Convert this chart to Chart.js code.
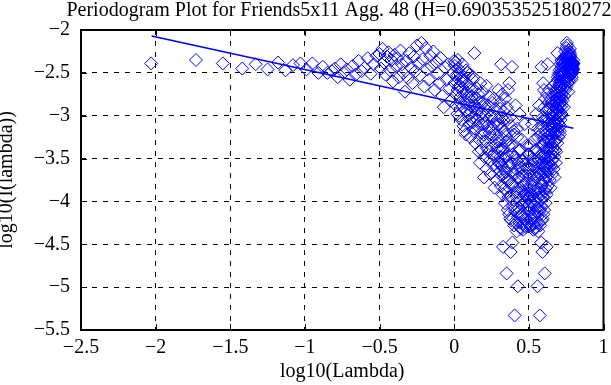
<!DOCTYPE html>
<html>
<head>
<meta charset="utf-8">
<script src="https://cdn.jsdelivr.net/npm/chart.js@4.4.0/dist/chart.umd.min.js"></script>
<style>
    html, body { margin: 0; padding: 0; background: #fff; }
    #grafico { display: block; }
</style>
</head>
<body>
<canvas id="grafico" width="611" height="385"></canvas>
<script>
// textos
const titulo = 'Periodogram Plot for Friends5x11 Agg. 48 (H=0.690353525180272)';
const xTitulo = 'log10(Lambda)';
const yTitulo = 'log10(I(lambda))';

// ticks dos eixos
const xTicks = [-2.5, -2, -1.5, -1, -0.5, 0, 0.5, 1];
const xTickLabels = ['\u22122.5', '\u22122', '\u22121.5', '\u22121', '\u22120.5', '0', '0.5', '1'];
const yTicks = [-5.5, -5, -4.5, -4, -3.5, -3, -2.5, -2];
const yTickLabels = ['\u22125.5', '\u22125', '\u22124.5', '\u22124', '\u22123.5', '\u22123', '\u22122.5', '\u22122'];

// log10(lambda) for the lower half of the frequencies (lambda < pi)
const freqBaixa = [
    -2.03, -1.73, -1.55, -1.42, -1.33, -1.25, -1.18, -1.13, -1.08, -1.03, -0.99, -0.95, -0.91, -0.88, -0.85, -0.82,
    -0.80, -0.78, -0.76, -0.74, -0.72, -0.70, -0.68, -0.66, -0.64, -0.62, -0.60, -0.58, -0.56, -0.54, -0.52,
    -0.50, -0.49, -0.48, -0.47, -0.46, -0.45, -0.44, -0.43, -0.42, -0.41, -0.40, -0.39, -0.38, -0.37, -0.36, -0.35, -0.34,
    -0.33, -0.32, -0.31, -0.30, -0.29, -0.28, -0.27, -0.26, -0.25, -0.24, -0.23, -0.22, -0.21, -0.20, -0.19, -0.18,
    -0.17, -0.16, -0.15, -0.14, -0.13, -0.12, -0.11, -0.10, -0.09, -0.08, -0.07, -0.06, -0.05, -0.04, -0.03, -0.02, -0.01, 0.00,
    0.005, 0.010, 0.015, 0.020, 0.025, 0.030, 0.035, 0.040, 0.045, 0.050,
    0.055, 0.060, 0.065, 0.070, 0.075, 0.080, 0.085, 0.090, 0.095, 0.100,
    0.105, 0.110, 0.115, 0.120, 0.125, 0.130, 0.135, 0.140, 0.145, 0.150,
    0.155, 0.160, 0.165, 0.170, 0.175, 0.180, 0.185, 0.190, 0.195, 0.200,
    0.205, 0.210, 0.215, 0.220, 0.225, 0.230, 0.235, 0.240, 0.245, 0.250,
    0.255, 0.260, 0.265, 0.270, 0.275, 0.280, 0.285, 0.290, 0.295, 0.300,
    0.303, 0.306, 0.309, 0.312, 0.315, 0.318, 0.321, 0.324, 0.327, 0.330,
    0.333, 0.336, 0.339, 0.342, 0.345, 0.348, 0.351, 0.354, 0.357, 0.360,
    0.363, 0.366, 0.369, 0.372, 0.375, 0.378, 0.381, 0.384, 0.387, 0.390,
    0.393, 0.396, 0.399, 0.402, 0.405, 0.408, 0.411, 0.414, 0.417, 0.420,
    0.423, 0.426, 0.429, 0.432, 0.435, 0.438, 0.441, 0.444, 0.447, 0.450,
    0.453, 0.456, 0.459, 0.462, 0.465, 0.468, 0.471, 0.474, 0.477, 0.480,
    0.483, 0.486, 0.489, 0.492, 0.495,
    0.0025, 0.0075, 0.0125, 0.0175, 0.0225, 0.0275, 0.0325, 0.0375, 0.0425, 0.0475,
    0.0525, 0.0575, 0.0625, 0.0675, 0.0725, 0.0775, 0.0825, 0.0875, 0.0925, 0.0975,
    0.1025, 0.1075, 0.1125, 0.1175, 0.1225, 0.1275, 0.1325, 0.1375, 0.1425, 0.1475,
    0.1525, 0.1575, 0.1625, 0.1675, 0.1725, 0.1775, 0.1825, 0.1875, 0.1925, 0.1975,
    0.2025, 0.2075, 0.2125, 0.2175, 0.2225, 0.2275, 0.2325, 0.2375, 0.2425, 0.2475,
    0.2525, 0.2575, 0.2625, 0.2675, 0.2725, 0.2775, 0.2825, 0.2875, 0.2925, 0.2975,
    0.3015, 0.3045, 0.3075, 0.3105, 0.3135, 0.3165, 0.3195, 0.3225, 0.3255, 0.3285,
    0.3315, 0.3345, 0.3375, 0.3405, 0.3435, 0.3465, 0.3495, 0.3525, 0.3555, 0.3585,
    0.3615, 0.3645, 0.3675, 0.3705, 0.3735, 0.3765, 0.3795, 0.3825, 0.3855, 0.3885,
    0.3915, 0.3945, 0.3975, 0.4005, 0.4035, 0.4065, 0.4095, 0.4125, 0.4155, 0.4185,
    0.4215, 0.4245, 0.4275, 0.4305, 0.4335, 0.4365, 0.4395, 0.4425, 0.4455, 0.4485,
    0.4515, 0.4545, 0.4575, 0.4605, 0.4635, 0.4665, 0.4695, 0.4725, 0.4755, 0.4785,
    0.4815, 0.4845, 0.4875, 0.4905, 0.4935
];

// log10(lambda) for the mirrored upper half (lambda > pi), same order
const freqAlta = [
    0.7975, 0.7969, 0.7962, 0.7956, 0.7949, 0.7943, 0.7936, 0.7930, 0.7924, 0.7917, 0.7911, 0.7904, 0.7896, 0.7890, 0.7883, 0.7876,
    0.7871, 0.7865, 0.7859, 0.7853, 0.7847, 0.7842, 0.7834, 0.7827, 0.7820, 0.7812, 0.7805, 0.7796, 0.7787, 0.7777, 0.7768,
    0.7758, 0.7752, 0.7746, 0.7740, 0.7734, 0.7728, 0.7722, 0.7716, 0.7710, 0.7704, 0.7698, 0.7690, 0.7682, 0.7675, 0.7667, 0.7659, 0.7652,
    0.7644, 0.7636, 0.7628, 0.7621, 0.7611, 0.7601, 0.7591, 0.7581, 0.7572, 0.7562, 0.7552, 0.7542, 0.7532, 0.7522, 0.7510, 0.7497,
    0.7484, 0.7471, 0.7459, 0.7446, 0.7433, 0.7420, 0.7408, 0.7395, 0.7378, 0.7362, 0.7345, 0.7329, 0.7312, 0.7295, 0.7279, 0.7262, 0.7246, 0.7229,
    0.7219, 0.7209, 0.7199, 0.7188, 0.7178, 0.7168, 0.7158, 0.7148, 0.7138, 0.7127,
    0.7116, 0.7104, 0.7092, 0.7081, 0.7069, 0.7057, 0.7046, 0.7034, 0.7022, 0.7011,
    0.6997, 0.6984, 0.6970, 0.6957, 0.6943, 0.6930, 0.6916, 0.6903, 0.6889, 0.6876,
    0.6860, 0.6845, 0.6829, 0.6813, 0.6798, 0.6782, 0.6766, 0.6751, 0.6735, 0.6719,
    0.6701, 0.6683, 0.6665, 0.6646, 0.6628, 0.6610, 0.6592, 0.6573, 0.6555, 0.6537,
    0.6516, 0.6494, 0.6473, 0.6451, 0.6430, 0.6408, 0.6387, 0.6366, 0.6344, 0.6323,
    0.6308, 0.6294, 0.6279, 0.6265, 0.6250, 0.6236, 0.6221, 0.6205, 0.6190, 0.6175,
    0.6159, 0.6144, 0.6128, 0.6112, 0.6096, 0.6080, 0.6063, 0.6046, 0.6029, 0.6012,
    0.5994, 0.5976, 0.5958, 0.5940, 0.5923, 0.5905, 0.5887, 0.5867, 0.5848, 0.5829,
    0.5810, 0.5791, 0.5771, 0.5751, 0.5730, 0.5709, 0.5689, 0.5668, 0.5647, 0.5626,
    0.5604, 0.5581, 0.5559, 0.5536, 0.5514, 0.5492, 0.5469, 0.5445, 0.5421, 0.5397,
    0.5372, 0.5347, 0.5322, 0.5297, 0.5271, 0.5244, 0.5218, 0.5191, 0.5164, 0.5137,
    0.5109, 0.5080, 0.5052, 0.5022, 0.4993,
    0.7224, 0.7214, 0.7204, 0.7194, 0.7183, 0.7173, 0.7163, 0.7153, 0.7143, 0.7133,
    0.7122, 0.7110, 0.7098, 0.7087, 0.7075, 0.7063, 0.7052, 0.7040, 0.7028, 0.7017,
    0.7004, 0.6991, 0.6977, 0.6964, 0.6950, 0.6937, 0.6923, 0.6910, 0.6896, 0.6883,
    0.6868, 0.6853, 0.6837, 0.6821, 0.6806, 0.6790, 0.6774, 0.6759, 0.6743, 0.6727,
    0.6710, 0.6692, 0.6674, 0.6656, 0.6637, 0.6619, 0.6601, 0.6583, 0.6564, 0.6546,
    0.6527, 0.6505, 0.6484, 0.6462, 0.6441, 0.6419, 0.6398, 0.6377, 0.6355, 0.6334,
    0.6316, 0.6301, 0.6287, 0.6272, 0.6258, 0.6243, 0.6229, 0.6213, 0.6198, 0.6183,
    0.6167, 0.6152, 0.6136, 0.6120, 0.6104, 0.6088, 0.6072, 0.6055, 0.6038, 0.6021,
    0.6003, 0.5985, 0.5967, 0.5949, 0.5932, 0.5914, 0.5896, 0.5877, 0.5858, 0.5839,
    0.5820, 0.5801, 0.5781, 0.5761, 0.5741, 0.5720, 0.5699, 0.5679, 0.5658, 0.5637,
    0.5615, 0.5593, 0.5570, 0.5548, 0.5525, 0.5503, 0.5481, 0.5457, 0.5433, 0.5409,
    0.5385, 0.5360, 0.5335, 0.5310, 0.5284, 0.5258, 0.5231, 0.5205, 0.5178, 0.5151,
    0.5123, 0.5095, 0.5066, 0.5037, 0.5008
];

// log10(I(lambda)) - the periodogram is symmetric, so both halves share these values
const periodograma = [
    -2.39, -2.35, -2.39, -2.45, -2.40, -2.46, -2.38, -2.47, -2.41, -2.39, -2.46, -2.39, -2.50, -2.43, -2.50, -2.48,
    -2.45, -2.55, -2.40, -2.50, -2.46, -2.58, -2.42, -2.52, -2.36, -2.48, -2.44, -2.33, -2.51, -2.40, -2.30,
    -2.28, -2.45, -2.22, -2.38, -2.52, -2.31, -2.26, -2.47, -2.35, -2.60, -2.29, -2.42, -2.33, -2.55, -2.24, -2.40, -2.50,
    -2.72, -2.36, -2.56, -2.27, -2.44, -2.62, -2.31, -2.48, -2.18, -2.39, -2.53, -2.15, -2.34, -2.66, -2.21, -2.46,
    -2.58, -2.30, -2.42, -2.25, -2.70, -2.37, -2.51, -2.62, -2.33, -2.77, -2.90, -2.44, -2.58, -2.40, -2.68, -2.82, -2.50, -2.36,
    -2.42, -2.75, -2.55, -2.98, -2.35, -2.66, -2.50, -2.85, -2.60, -3.05,
    -2.40, -2.72, -2.55, -3.18, -2.82, -2.47, -2.95, -2.63, -2.78, -3.10,
    -2.52, -2.88, -2.70, -3.02, -2.58, -2.80, -2.27, -3.15, -2.92, -2.68,
    -3.05, -2.75, -3.42, -2.85, -2.62, -3.20, -2.96, -2.72, -3.30, -3.72,
    -2.88, -3.08, -2.65, -3.38, -2.95, -3.15, -2.78, -3.52, -3.02, -3.25,
    -2.85, -3.45, -3.10, -3.84, -2.92, -3.30, -3.60, -3.05, -2.70, -3.40,
    -3.10, -2.85, -3.55, -3.25, -2.40, -3.70, -3.02, -3.40, -4.53, -2.95,
    -3.62, -3.18, -3.85, -2.80, -3.48, -3.30, -4.84, -3.05, -3.75, -2.70,
    -3.95, -3.35, -2.62, -3.58, -4.20, -4.59, -3.12, -3.80, -2.43, -4.48,
    -3.45, -3.98, -3.22, -4.09, -5.33, -3.68, -2.88, -4.25, -3.52, -3.90,
    -3.15, -4.99, -3.72, -4.12, -3.40, -2.98, -4.30, -3.60, -3.85, -4.17,
    -3.28, -4.05, -3.70, -4.33, -3.50, -3.92, -3.10, -4.22, -3.78, -4.00,
    -3.35, -4.28, -3.62, -3.95, -3.45,
    -2.62, -2.38, -2.88, -2.52, -2.70, -2.45, -3.00, -2.65, -2.78, -2.55,
    -2.90, -2.68, -3.12, -2.60, -2.85, -3.22, -2.74, -2.50, -3.00, -2.86,
    -2.66, -3.25, -2.95, -2.78, -3.08, -2.55, -3.18, -2.88, -3.32, -2.98,
    -2.80, -3.12, -2.92, -3.28, -3.55, -2.98, -3.40, -3.10, -2.84, -3.22,
    -3.48, -3.00, -3.30, -3.62, -3.12, -2.88, -3.42, -3.20, -3.68, -3.00,
    -3.35, -3.15, -3.58, -2.80, -3.48, -3.22, -3.75, -3.38, -3.10, -3.55,
    -3.30, -3.65, -2.92, -3.48, -3.82, -3.15, -3.58, -2.75, -3.92, -3.38,
    -3.05, -3.72, -3.50, -4.02, -3.22, -3.66, -3.88, -2.90, -3.45, -4.10,
    -3.60, -3.28, -4.15, -3.75, -3.02, -3.95, -3.55, -4.22, -3.35, -3.82,
    -4.05, -3.68, -3.18, -4.28, -3.90, -3.48, -4.12, -3.62, -3.95, -4.35,
    -3.25, -3.85, -4.18, -3.55, -4.08, -3.72, -4.25, -3.40, -3.98, -4.32,
    -3.65, -4.15, -3.88, -3.52, -4.26, -3.80, -4.02, -3.58, -4.20, -3.92,
    -4.30, -3.70, -4.10, -3.85, -4.05
];

// reta ajustada (least squares fit)
const retaX = [-2.027, 0.798];
const retaY = [-2.070, -3.146];

document.addEventListener('DOMContentLoaded', function () {
    const azul = 'rgb(0, 0, 255)';
    const fonte = "'Liberation Serif', 'Times New Roman', serif";

    Chart.defaults.font.family = fonte;
    Chart.defaults.font.size = 20;
    Chart.defaults.color = '#000';

    // monta os pontos
    const pontos = [];
    periodograma.forEach(function (v, i) {
        pontos.push({ x: freqBaixa[i], y: v });
        pontos.push({ x: freqAlta[i], y: v });
    });
    const reta = retaX.map(function (x, i) { return { x: x, y: retaY[i] }; });

    // titulo centrado sobre a area do grafico
    const tituloPlugin = {
        id: 'tituloPlugin',
        afterDraw(chart) {
            const ctx = chart.ctx, area = chart.chartArea;
            ctx.save();
            ctx.font = '20px ' + fonte;
            ctx.fillStyle = '#000';
            ctx.textAlign = 'center';
            ctx.textBaseline = 'alphabetic';
            ctx.fillText(titulo, (area.left + area.right) / 2, 16);
            ctx.restore();
        }
    };

    // caixa dos eixos com ticks para dentro
    const caixaPlugin = {
        id: 'caixaPlugin',
        afterDatasetsDraw(chart) {
            const ctx = chart.ctx, a = chart.chartArea;
            const sx = chart.scales.x, sy = chart.scales.y;
            const tam = 6;
            ctx.save();
            ctx.strokeStyle = '#000';
            ctx.lineWidth = 1;
            ctx.beginPath();
            xTicks.forEach(function (v) {
                const px = Math.round(sx.getPixelForValue(v)) + 0.5;
                ctx.moveTo(px, a.bottom); ctx.lineTo(px, a.bottom - tam);
                ctx.moveTo(px, a.top); ctx.lineTo(px, a.top + tam);
            });
            yTicks.forEach(function (v) {
                const py = Math.round(sy.getPixelForValue(v)) + 0.5;
                ctx.moveTo(a.left, py); ctx.lineTo(a.left + tam, py);
                ctx.moveTo(a.right, py); ctx.lineTo(a.right - tam, py);
            });
            ctx.stroke();
            ctx.lineWidth = 2;
            ctx.strokeRect(a.left, a.top, a.right - a.left, a.bottom - a.top);
            ctx.restore();
        }
    };

    const gradeComum = { color: '#000', lineWidth: 1, drawTicks: false };

    new Chart(document.getElementById('grafico').getContext('2d'), {
        type: 'scatter',
        data: {
            datasets: [{
                type: 'line',
                data: reta,
                borderColor: azul,
                borderWidth: 1.6,
                pointRadius: 0,
                fill: false,
                order: 0
            }, {
                data: pontos,
                pointStyle: 'rectRot',
                pointRadius: 6.5,
                pointBorderWidth: 1,
                borderColor: azul,
                backgroundColor: 'rgba(0,0,0,0)',
                order: 1
            }]
        },
        options: {
            responsive: false,
            animation: false,
            devicePixelRatio: 1,
            layout: { padding: { top: 30, right: 3, left: 0, bottom: 0 } },
            plugins: {
                legend: { display: false },
                tooltip: { enabled: false },
                title: { display: false }
            },
            scales: {
                x: {
                    type: 'linear',
                    min: -2.5,
                    max: 1,
                    afterBuildTicks: function (s) { s.ticks = xTicks.map(function (v) { return { value: v }; }); },
                    afterFit: function (s) { s.height = 55; s.paddingLeft = 0; s.paddingRight = 0; },
                    grid: gradeComum,
                    border: { display: false, dash: [5, 6] },
                    ticks: {
                        padding: 6,
                        maxRotation: 0,
                        minRotation: 0,
                        autoSkip: false,
                        callback: function (v, i) { return xTickLabels[i]; }
                    },
                    title: { display: true, text: xTitulo, padding: { top: 0, bottom: 1 } }
                },
                y: {
                    type: 'linear',
                    min: -5.5,
                    max: -2,
                    afterBuildTicks: function (s) { s.ticks = yTicks.map(function (v) { return { value: v }; }); },
                    afterFit: function (s) { s.width = 81; s.paddingTop = 0; s.paddingBottom = 0; },
                    grid: gradeComum,
                    border: { display: false, dash: [5, 6] },
                    ticks: {
                        padding: 11,
                        autoSkip: false,
                        callback: function (v, i) { return yTickLabels[i]; }
                    },
                    title: { display: true, text: yTitulo, padding: { top: -5, bottom: 0 } }
                }
            }
        },
        plugins: [tituloPlugin, caixaPlugin]
    });
});
</script>
</body>
</html>
